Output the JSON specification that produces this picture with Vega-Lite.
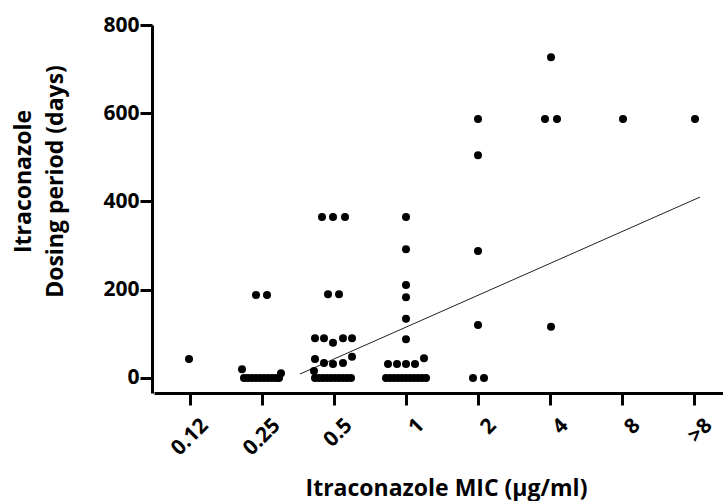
{
  "$schema": "https://vega.github.io/schema/vega-lite/v6.json",
  "width": 571,
  "height": 368,
  "autosize": "none",
  "padding": {"left": 152, "top": 25, "right": 0, "bottom": 108},
  "background": "white",
  "config": {
    "view": {"stroke": null},
    "font": "Open Sans",
    "axis": {
      "grid": false,
      "domainColor": "black",
      "domainWidth": 3,
      "tickColor": "black",
      "tickWidth": 3,
      "tickSize": 12,
      "labelColor": "black",
      "labelFont": "Open Sans",
      "labelFontWeight": "bold",
      "labelFontSize": 21,
      "titleColor": "black",
      "titleFont": "Open Sans",
      "titleFontWeight": "bold",
      "titleFontSize": 23
    }
  },
  "datasets": {
    "points": [
      {"mic": "0.12", "jitter": -1, "days": 43},
      {"mic": "0.25", "jitter": -6, "days": 188},
      {"mic": "0.25", "jitter": 5, "days": 188},
      {"mic": "0.25", "jitter": -20, "days": 20},
      {"mic": "0.25", "jitter": 19, "days": 11},
      {"mic": "0.25", "jitter": -18, "days": 0},
      {"mic": "0.25", "jitter": -14, "days": 0},
      {"mic": "0.25", "jitter": -10, "days": 0},
      {"mic": "0.25", "jitter": -6, "days": 0},
      {"mic": "0.25", "jitter": -2, "days": 0},
      {"mic": "0.25", "jitter": 2, "days": 0},
      {"mic": "0.25", "jitter": 6, "days": 0},
      {"mic": "0.25", "jitter": 10, "days": 0},
      {"mic": "0.25", "jitter": 14, "days": 0},
      {"mic": "0.25", "jitter": 17, "days": 0},
      {"mic": "0.5", "jitter": -12, "days": 365},
      {"mic": "0.5", "jitter": -1, "days": 365},
      {"mic": "0.5", "jitter": 11, "days": 365},
      {"mic": "0.5", "jitter": -6, "days": 190},
      {"mic": "0.5", "jitter": 5, "days": 190},
      {"mic": "0.5", "jitter": -19, "days": 90},
      {"mic": "0.5", "jitter": -10, "days": 90},
      {"mic": "0.5", "jitter": -1, "days": 80},
      {"mic": "0.5", "jitter": 9, "days": 90},
      {"mic": "0.5", "jitter": 18, "days": 90},
      {"mic": "0.5", "jitter": -19, "days": 43},
      {"mic": "0.5", "jitter": 18, "days": 48},
      {"mic": "0.5", "jitter": -10, "days": 34},
      {"mic": "0.5", "jitter": -1, "days": 32},
      {"mic": "0.5", "jitter": 9, "days": 34},
      {"mic": "0.5", "jitter": -20, "days": 16},
      {"mic": "0.5", "jitter": -19, "days": 0},
      {"mic": "0.5", "jitter": -15, "days": 0},
      {"mic": "0.5", "jitter": -11, "days": 0},
      {"mic": "0.5", "jitter": -7, "days": 0},
      {"mic": "0.5", "jitter": -3, "days": 0},
      {"mic": "0.5", "jitter": 1, "days": 0},
      {"mic": "0.5", "jitter": 5, "days": 0},
      {"mic": "0.5", "jitter": 9, "days": 0},
      {"mic": "0.5", "jitter": 13, "days": 0},
      {"mic": "0.5", "jitter": 17, "days": 0},
      {"mic": "1", "jitter": 0, "days": 365},
      {"mic": "1", "jitter": 0, "days": 292},
      {"mic": "1", "jitter": 0, "days": 211},
      {"mic": "1", "jitter": 0, "days": 183},
      {"mic": "1", "jitter": 0, "days": 134},
      {"mic": "1", "jitter": 0, "days": 88},
      {"mic": "1", "jitter": -18, "days": 32},
      {"mic": "1", "jitter": -9, "days": 32},
      {"mic": "1", "jitter": 0, "days": 32},
      {"mic": "1", "jitter": 9, "days": 32},
      {"mic": "1", "jitter": 18, "days": 45},
      {"mic": "1", "jitter": -20, "days": 0},
      {"mic": "1", "jitter": -16, "days": 0},
      {"mic": "1", "jitter": -12, "days": 0},
      {"mic": "1", "jitter": -8, "days": 0},
      {"mic": "1", "jitter": -4, "days": 0},
      {"mic": "1", "jitter": 0, "days": 0},
      {"mic": "1", "jitter": 4, "days": 0},
      {"mic": "1", "jitter": 8, "days": 0},
      {"mic": "1", "jitter": 12, "days": 0},
      {"mic": "1", "jitter": 16, "days": 0},
      {"mic": "1", "jitter": 20, "days": 0},
      {"mic": "2", "jitter": 0, "days": 587},
      {"mic": "2", "jitter": 0, "days": 505},
      {"mic": "2", "jitter": 0, "days": 288},
      {"mic": "2", "jitter": 0, "days": 120},
      {"mic": "2", "jitter": -5, "days": 0},
      {"mic": "2", "jitter": 6, "days": 0},
      {"mic": "4", "jitter": 1, "days": 727},
      {"mic": "4", "jitter": -5, "days": 587},
      {"mic": "4", "jitter": 7, "days": 587},
      {"mic": "4", "jitter": 1, "days": 116},
      {"mic": "8", "jitter": 1, "days": 587},
      {"mic": ">8", "jitter": 1, "days": 587}
    ],
    "fit": [
      {"mic": "0.5", "jitter": -34, "days": 9},
      {"mic": ">8", "jitter": 6, "days": 410}
    ]
  },
  "encoding": {
    "x": {
      "field": "mic",
      "type": "nominal",
      "sort": ["0.12", "0.25", "0.5", "1", "2", "4", "8", ">8"],
      "scale": {"domain": ["0.12", "0.25", "0.5", "1", "2", "4", "8", ">8"], "range": [2, 578], "paddingInner": 0, "paddingOuter": 0},
      "axis": {
        "title": "Itraconazole MIC (µg/ml)",
        "labelAngle": -45,
        "labelAlign": "right",
        "labelBaseline": "middle",
        "labelPadding": 17,
        "labelOffset": 15,
        "titleX": 294,
        "titleY": 102,
        "titleBaseline": "alphabetic",
        "titleAnchor": "middle",
        "titleAlign": "center"
      }
    },
    "xOffset": {"field": "jitter", "type": "quantitative", "scale": {"domain": [-36, 36], "range": [0, 72]}},
    "y": {
      "field": "days",
      "type": "quantitative",
      "scale": {"domain": [-34, 800], "nice": false, "zero": false},
      "axis": {
        "values": [0, 200, 400, 600, 800],
        "labelPadding": 1,
        "title": ["Itraconazole\u00a0\u00a0\u00a0\u00a0\u00a0\u00a0\u00a0\u00a0", "Dosing period (days)"],
        "titleAngle": -90,
        "titleX": -140,
        "titleY": 156,
        "titleAlign": "center",
        "titleBaseline": "top",
        "titleLineHeight": 32
      }
    }
  },
  "layer": [
    {
      "data": {"name": "fit"},
      "mark": {"type": "line", "color": "#222222", "strokeWidth": 1}
    },
    {
      "data": {"name": "points"},
      "mark": {"type": "circle", "color": "black", "opacity": 1, "size": 64}
    }
  ]
}
